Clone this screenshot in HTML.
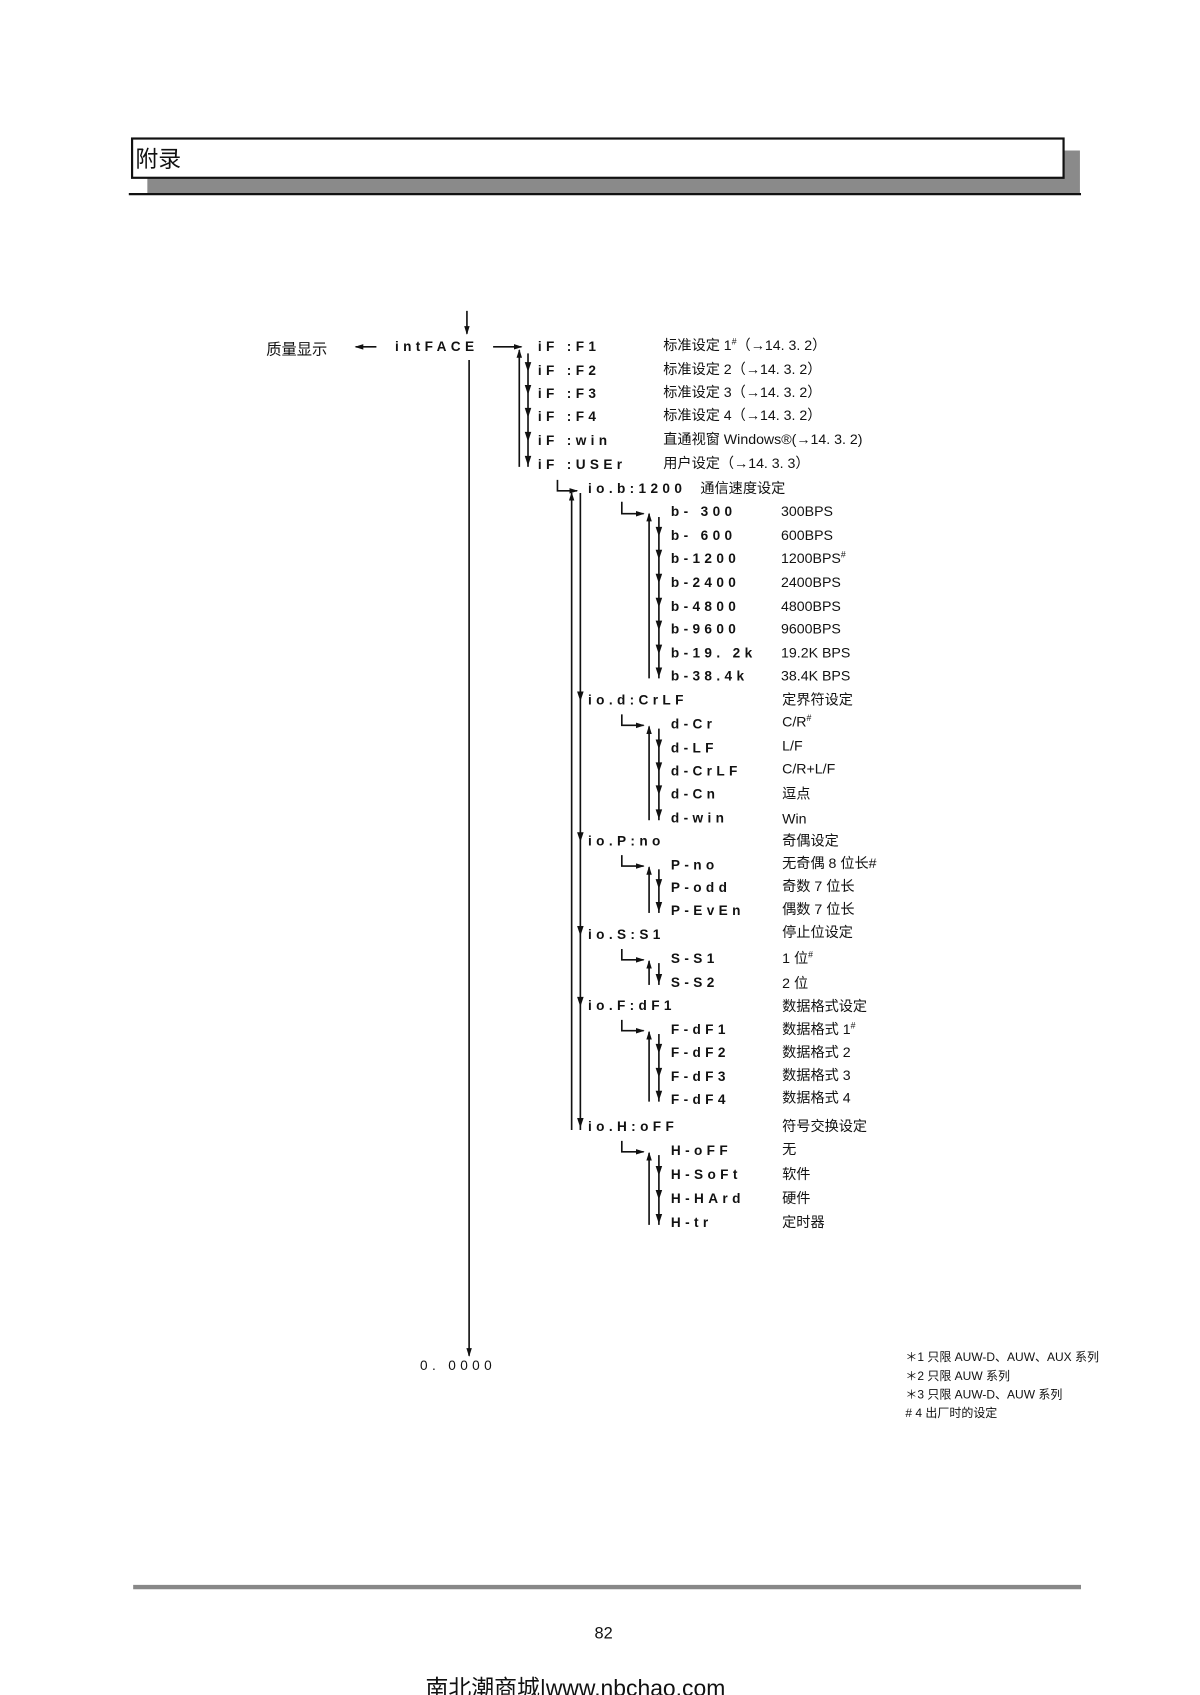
<!DOCTYPE html>
<html><head><meta charset="utf-8"><style>
html,body{margin:0;padding:0;background:#fff;}
svg{display:block}
text{font-family:"Liberation Sans","Noto Sans CJK SC",sans-serif;fill:#111;}
.c{font-size:12.5px;letter-spacing:4px;font-weight:bold}
.d{font-size:13px}
.f{font-size:11px}
</style></head><body>
<svg width="1200" height="1695" viewBox="0 0 1100 1554" xmlns="http://www.w3.org/2000/svg">
<defs>
<marker id="a" markerWidth="8" markerHeight="8" refX="7" refY="4" orient="auto" markerUnits="userSpaceOnUse"><path d="M0,1.5 L8,4 L0,6.5z" fill="#111"/></marker>
</defs>
<!-- header -->
<rect x="135" y="138" width="855" height="39" fill="#8a8a8a"/>
<rect x="121" y="127" width="854" height="36" fill="#fff" stroke="#111" stroke-width="2"/>
<text x="124" y="153" style="font-size:21px">附录</text>
<line x1="118" y1="178" x2="991" y2="178" stroke="#111" stroke-width="2"/>

<g stroke="#111" stroke-width="1.5" fill="none">
<line x1="428" y1="285" x2="428" y2="306" marker-end="url(#a)"/>
<line x1="345" y1="318" x2="326" y2="318" marker-end="url(#a)"/>
<line x1="452" y1="318" x2="478" y2="318" marker-end="url(#a)"/>
<line x1="430" y1="330" x2="430" y2="1243" marker-end="url(#a)"/>
</g>
<text x="244" y="325" class="d" style="font-size:14px">质量显示</text>
<text x="362" y="322" class="c">intFACE</text>
<text x="385" y="1256" class="c" style="font-weight:normal">0. 0000</text>

<g id="tree" stroke="#111" stroke-width="1.5" fill="none">
<!-- iF group -->
<line x1="476" y1="428" x2="476" y2="321" marker-end="url(#a)"/>
<line x1="484" y1="324" x2="484" y2="428"/>
<!-- io group -->
<line x1="524" y1="1036" x2="524" y2="452" marker-end="url(#a)"/>
<line x1="532" y1="452" x2="532" y2="1036"/>
<path d="M511,440 V450 H529" marker-end="url(#a)"/>
<!-- b -->
<line x1="595" y1="622" x2="595" y2="471" marker-end="url(#a)"/>
<line x1="604" y1="474" x2="604" y2="622"/>
<path d="M570,460 V471 H590" marker-end="url(#a)"/>
<!-- d -->
<line x1="595" y1="752" x2="595" y2="666" marker-end="url(#a)"/>
<line x1="604" y1="668" x2="604" y2="752"/>
<path d="M570,655 V665 H590" marker-end="url(#a)"/>
<!-- P -->
<line x1="595" y1="837" x2="595" y2="795" marker-end="url(#a)"/>
<line x1="604" y1="797" x2="604" y2="837"/>
<path d="M570,784 V794 H590" marker-end="url(#a)"/>
<!-- S -->
<line x1="595" y1="903" x2="595" y2="881" marker-end="url(#a)"/>
<line x1="604" y1="883" x2="604" y2="903"/>
<path d="M570,870 V880 H590" marker-end="url(#a)"/>
<!-- F -->
<line x1="595" y1="1010" x2="595" y2="946" marker-end="url(#a)"/>
<line x1="604" y1="948" x2="604" y2="1010"/>
<path d="M570,935 V945 H590" marker-end="url(#a)"/>
<!-- H -->
<line x1="595" y1="1123" x2="595" y2="1057" marker-end="url(#a)"/>
<line x1="604" y1="1059" x2="604" y2="1123"/>
<path d="M570,1046 V1056 H590" marker-end="url(#a)"/>
</g>
<g fill="#111">
<!-- down arrowheads: iF -->
<path d="M481,332 h6 l-3,9z M481,353 h6 l-3,9z M481,374 h6 l-3,9z M481,396 h6 l-3,9z M481,418 h6 l-3,9z"/>
<!-- io -->
<path d="M529,634 h6 l-3,9z M529,763 h6 l-3,9z M529,849 h6 l-3,9z M529,914 h6 l-3,9z M529,1025 h6 l-3,9z"/>
<!-- b -->
<path d="M601,483 h6 l-3,9z M601,504 h6 l-3,9z M601,526 h6 l-3,9z M601,548 h6 l-3,9z M601,569 h6 l-3,9z M601,591 h6 l-3,9z M601,612 h6 l-3,9z"/>
<path d="M601,678 h6 l-3,9z M601,699 h6 l-3,9z M601,720 h6 l-3,9z M601,742 h6 l-3,9z"/>
<path d="M601,806 h6 l-3,9z M601,827 h6 l-3,9z"/>
<path d="M601,893 h6 l-3,9z"/>
<path d="M601,957 h6 l-3,9z M601,979 h6 l-3,9z M601,1000 h6 l-3,9z"/>
<path d="M601,1069 h6 l-3,9z M601,1091 h6 l-3,9z M601,1113 h6 l-3,9z"/>
</g>

<g class="c">
<text x="493" y="322">iF :F1</text>
<text x="493" y="344">iF :F2</text>
<text x="493" y="365">iF :F3</text>
<text x="493" y="386">iF :F4</text>
<text x="493" y="408">iF :win</text>
<text x="493" y="430">iF :USEr</text>
<text x="539" y="452">io.b:1200</text>
<text x="539" y="646">io.d:CrLF</text>
<text x="539" y="775">io.P:no</text>
<text x="539" y="861">io.S:S1</text>
<text x="539" y="926">io.F:dF1</text>
<text x="539" y="1037">io.H:oFF</text>
<text x="615" y="473">b-  300</text>
<text x="615" y="495">b-  600</text>
<text x="615" y="516">b-1200</text>
<text x="615" y="538">b-2400</text>
<text x="615" y="560">b-4800</text>
<text x="615" y="581">b-9600</text>
<text x="615" y="603">b-19. 2k</text>
<text x="615" y="624">b-38.4k</text>
<text x="615" y="668">d-Cr</text>
<text x="615" y="690">d-LF</text>
<text x="615" y="711">d-CrLF</text>
<text x="615" y="732">d-Cn</text>
<text x="615" y="754">d-win</text>
<text x="615" y="797">P-no</text>
<text x="615" y="818">P-odd</text>
<text x="615" y="839">P-EvEn</text>
<text x="615" y="883">S-S1</text>
<text x="615" y="905">S-S2</text>
<text x="615" y="948">F-dF1</text>
<text x="615" y="969">F-dF2</text>
<text x="615" y="991">F-dF3</text>
<text x="615" y="1012">F-dF4</text>
<text x="615" y="1059">H-oFF</text>
<text x="615" y="1081">H-SoFt</text>
<text x="615" y="1103">H-HArd</text>
<text x="615" y="1125">H-tr</text>
</g>
<g class="d">
<text x="608" y="321">标准设定 1<tspan style="font-size:8px" dy="-5">#</tspan><tspan dy="5">（→14. 3. 2）</tspan></text>
<text x="608" y="343">标准设定 2（→14. 3. 2）</text>
<text x="608" y="364">标准设定 3（→14. 3. 2）</text>
<text x="608" y="385">标准设定 4（→14. 3. 2）</text>
<text x="608" y="407">直通视窗 Windows®(→14. 3. 2)</text>
<text x="608" y="429">用户设定（→14. 3. 3）</text>
<text x="642" y="452">通信速度设定</text>
<text x="716" y="473">300BPS</text>
<text x="716" y="495">600BPS</text>
<text x="716" y="516">1200BPS<tspan style="font-size:8px" dy="-5">#</tspan></text>
<text x="716" y="538">2400BPS</text>
<text x="716" y="560">4800BPS</text>
<text x="716" y="581">9600BPS</text>
<text x="716" y="603">19.2K BPS</text>
<text x="716" y="624">38.4K BPS</text>
<text x="717" y="646">定界符设定</text>
<text x="717" y="666">C/R<tspan style="font-size:8px" dy="-5">#</tspan></text>
<text x="717" y="688">L/F</text>
<text x="717" y="709">C/R+L/F</text>
<text x="717" y="732">逗点</text>
<text x="717" y="755">Win</text>
<text x="717" y="775">奇偶设定</text>
<text x="717" y="796">无奇偶 8 位长#</text>
<text x="717" y="817">奇数 7 位长</text>
<text x="717" y="838">偶数 7 位长</text>
<text x="717" y="859">停止位设定</text>
<text x="717" y="883">1 位<tspan style="font-size:8px" dy="-5">#</tspan></text>
<text x="717" y="906">2 位</text>
<text x="717" y="927">数据格式设定</text>
<text x="717" y="948">数据格式 1<tspan style="font-size:8px" dy="-5">#</tspan></text>
<text x="717" y="969">数据格式 2</text>
<text x="717" y="990">数据格式 3</text>
<text x="717" y="1011">数据格式 4</text>
<text x="717" y="1037">符号交换设定</text>
<text x="717" y="1058">无</text>
<text x="717" y="1081">软件</text>
<text x="717" y="1103">硬件</text>
<text x="717" y="1125">定时器</text>
</g>
<g class="f">
<text x="830" y="1248">＊1 只限 AUW-D、AUW、AUX 系列</text>
<text x="830" y="1265">＊2  只限 AUW 系列</text>
<text x="830" y="1282">＊3 只限 AUW-D、AUW 系列</text>
<text x="830" y="1299"># 4 出厂时的设定</text>
</g>
<line x1="122" y1="1455" x2="991" y2="1455" stroke="#888" stroke-width="4"/>
<text x="545" y="1502" style="font-size:15px">82</text>
<text x="390" y="1555" style="font-size:21px">南北潮商城|www.nbchao.com</text>
</svg>
</body></html>
